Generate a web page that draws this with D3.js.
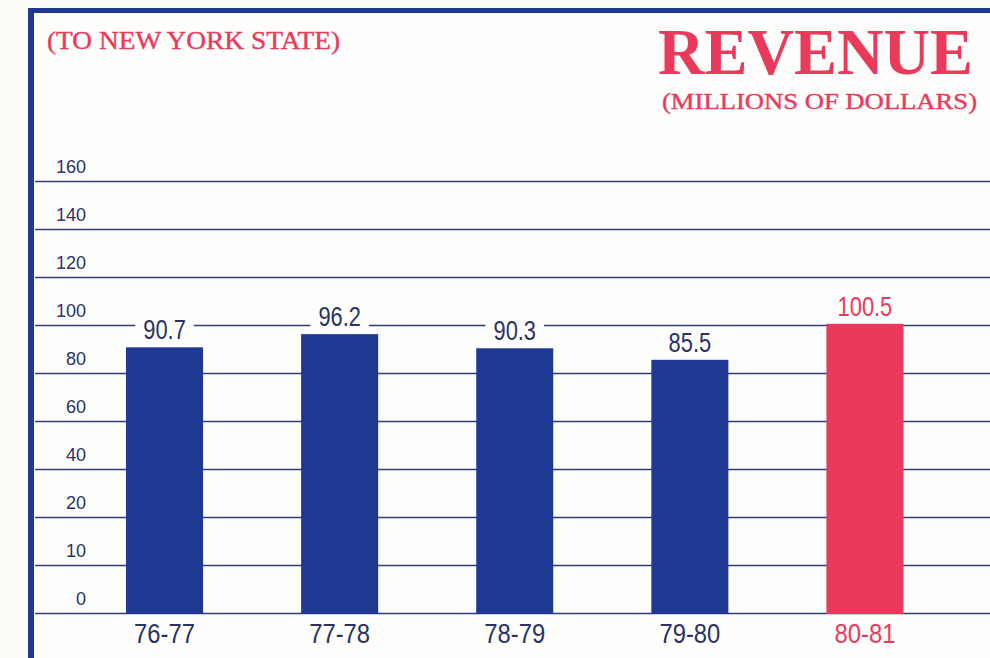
<!DOCTYPE html>
<html>
<head>
<meta charset="utf-8">
<script src="https://cdn.jsdelivr.net/npm/d3@7"></script>
<style>
  html, body { margin: 0; padding: 0; background: #fbfbf8; }
  svg { display: block; }
</style>
</head>
<body>
<div id="chart"></div>
<script>
// fiscal years and revenue (millions of dollars)
const years = ['76-77', '77-78', '78-79', '79-80', '80-81'];
const revenue = [90.7, 96.2, 90.3, 85.5, 100.5];
const highlight = '80-81';

// the printed axis is not linear: evenly spaced lines with these labels
const tickValues = [0, 10, 20, 40, 60, 80, 100, 120, 140, 160];

const width = 990;
const height = 658;
const navy = '#1f3892';
const red = '#ea3a5c';
const inkNavy = '#2a3362';
const sansFont = '"Liberation Sans", Arial, sans-serif';

// squeeze a text horizontally to mimic the condensed type of the print
function condense(sel, factor) {
  sel.each(function () {
    const len = this.getComputedTextLength();
    d3.select(this)
      .attr('textLength', len * factor)
      .attr('lengthAdjust', 'spacingAndGlyphs');
  });
}

const svg = d3.select('#chart').append('svg')
  .attr('width', width)
  .attr('height', height);

svg.append('rect')
  .attr('width', width)
  .attr('height', height)
  .attr('fill', '#fbfbf8');

// frame (open on right and bottom)
svg.append('rect').attr('x', 28).attr('y', 8).attr('width', width - 28).attr('height', height - 8).attr('fill', '#fefefd');
svg.append('rect').attr('x', 28).attr('y', 8).attr('width', 6).attr('height', height - 8).attr('fill', navy);
svg.append('rect').attr('x', 28).attr('y', 8).attr('width', width - 28).attr('height', 5).attr('fill', navy);

const plotLeft = 35;
const y0 = 613;
const step = 48;

// piecewise scale so the uneven labels sit on even lines
const yScale = d3.scaleLinear()
  .domain(tickValues)
  .range(tickValues.map((d, i) => y0 - i * step));

const xScale = d3.scaleBand()
  .domain(years)
  .range([77, 952.5])
  .paddingInner(0.56)
  .paddingOuter(0.28);

// gridlines + tick labels
const yAxis = svg.append('g')
  .attr('transform', `translate(${plotLeft},0)`)
  .call(d3.axisLeft(yScale).tickValues(tickValues).tickSize(-(width - plotLeft)).tickFormat(d3.format('d')));

yAxis.select('.domain').remove();
yAxis.selectAll('.tick line')
  .attr('stroke', '#2f3a78')
  .attr('stroke-width', 1.4);
yAxis.selectAll('.tick text')
  .attr('x', 51)
  .attr('dy', '-9px')
  .attr('text-anchor', 'end')
  .attr('fill', inkNavy)
  .attr('font-family', sansFont)
  .attr('font-size', '19px')
  .call(condense, 0.95);

// bars
svg.append('g').selectAll('rect')
  .data(years)
  .join('rect')
  .attr('x', d => xScale(d))
  .attr('width', xScale.bandwidth())
  .attr('y', (d, i) => yScale(revenue[i]))
  .attr('height', (d, i) => yScale(0) - yScale(revenue[i]) + 1)
  .attr('fill', d => d === highlight ? red : navy);

// value labels on a white patch that breaks the gridline
const labels = svg.append('g');
years.forEach((d, i) => {
  const lg = labels.append('g');
  const t = lg.append('text')
    .attr('x', xScale(d) + xScale.bandwidth() / 2)
    .attr('y', yScale(revenue[i]) - 8)
    .attr('text-anchor', 'middle')
    .attr('fill', d === highlight ? red : inkNavy)
    .attr('font-family', sansFont)
    .attr('font-size', '28px')
    .text(revenue[i].toFixed(1))
    .call(condense, 0.78);
  const bb = t.node().getBBox();
  lg.insert('rect', 'text')
    .attr('x', bb.x - 8)
    .attr('y', bb.y + 4)
    .attr('width', bb.width + 16)
    .attr('height', bb.height - 6)
    .attr('fill', '#fefefd');
});

// category labels
svg.append('g').selectAll('text')
  .data(years)
  .join('text')
  .attr('x', d => xScale(d) + xScale.bandwidth() / 2)
  .attr('y', 643)
  .attr('text-anchor', 'middle')
  .attr('fill', d => d === highlight ? red : inkNavy)
  .attr('font-family', sansFont)
  .attr('font-size', '28px')
  .text(d => d)
  .call(condense, 0.85);

// titles
svg.append('text')
  .attr('x', 47)
  .attr('y', 49)
  .attr('fill', red)
  .attr('font-family', '"Liberation Serif", serif')
  .attr('font-size', '26px')
  .attr('stroke', red)
  .attr('stroke-width', 0.4)
  .attr('textLength', 293)
  .attr('lengthAdjust', 'spacingAndGlyphs')
  .text('(TO NEW YORK STATE)');

svg.append('text')
  .attr('x', 658)
  .attr('y', 74)
  .attr('fill', red)
  .attr('font-family', '"Liberation Serif", serif')
  .attr('font-weight', 'bold')
  .attr('font-size', '66px')
  .attr('textLength', 315)
  .attr('lengthAdjust', 'spacingAndGlyphs')
  .text('REVENUE');

svg.append('text')
  .attr('x', 662)
  .attr('y', 109)
  .attr('fill', red)
  .attr('font-family', '"Liberation Serif", serif')
  .attr('font-size', '24px')
  .attr('stroke', red)
  .attr('stroke-width', 0.4)
  .attr('textLength', 315)
  .attr('lengthAdjust', 'spacingAndGlyphs')
  .text('(MILLIONS OF DOLLARS)');
</script>
</body>
</html>
